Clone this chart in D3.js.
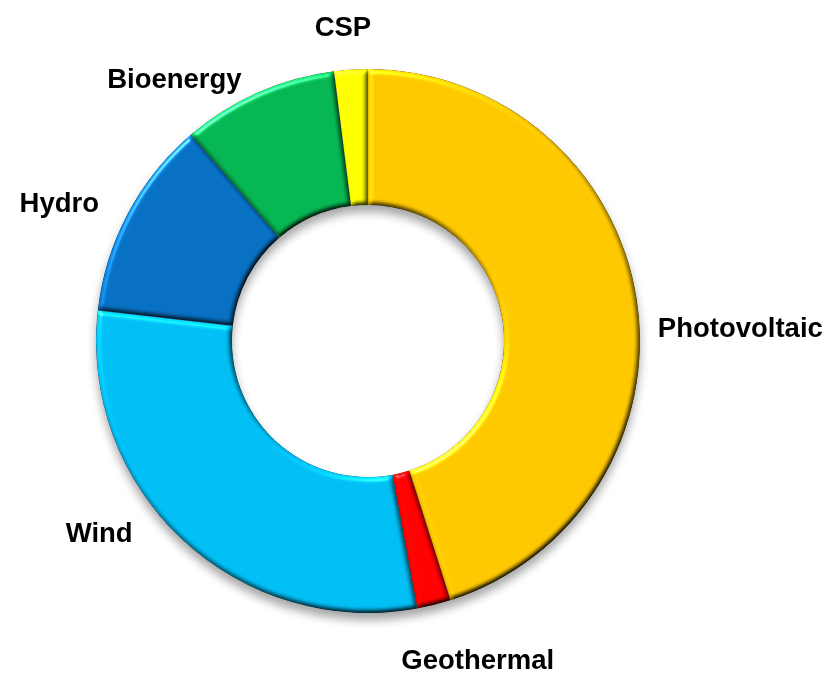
<!DOCTYPE html>
<html>
<head>
<meta charset="utf-8">
<script src="https://cdnjs.cloudflare.com/ajax/libs/d3/7.8.5/d3.min.js"></script>
<style>
  body { margin: 0; background: #fff; }
  .label { font-family: "Liberation Sans", Arial, sans-serif; font-weight: bold; font-size: 27.5px; fill: #000; }
</style>
</head>
<body>
<div id="chart"></div>
<script>
// donut chart - renewable energy shares

var sources = ["Photovoltaic", "Geothermal", "Wind", "Hydro", "Bioenergy", "CSP"];
var shares = [45.1, 2.0, 29.7, 11.9, 9.3, 2.0];
var colors = ["#FFC800", "#FF0000", "#00BEF4", "#0670C2", "#05B652", "#FFFF00"];

// label nudges from default outside position (px)
var labelNudge = [[64, 34], [34, 16], [-56, -37], [-33, 7], [-67, 23], [-5.5, -3.6]];

var svgWidth = 829;
var svgHeight = 675;
var cx = 368, cy = 341;
var outerR = 272, innerR = 136;

var svg = d3.select("#chart").append("svg")
  .attr("width", svgWidth)
  .attr("height", svgHeight);

var defs = svg.append("defs");

// soft bevel on each slice
var bevel = defs.append("filter").attr("id", "bevel")
  .attr("color-interpolation-filters", "sRGB")
  .attr("x", "-10%").attr("y", "-10%").attr("width", "120%").attr("height", "120%");
bevel.append("feGaussianBlur").attr("in", "SourceAlpha").attr("stdDeviation", 2.6).attr("result", "blur");
bevel.append("feDiffuseLighting").attr("in", "blur").attr("surfaceScale", 3)
  .attr("diffuseConstant", 1).attr("lighting-color", "#fff").attr("result", "diff")
  .append("feDistantLight").attr("azimuth", 235).attr("elevation", 50);
bevel.append("feComposite").attr("in", "SourceGraphic").attr("in2", "diff")
  .attr("operator", "arithmetic").attr("k1", 1.3).attr("k2", 0).attr("k3", 0).attr("k4", 0)
  .attr("result", "shaded");
bevel.append("feSpecularLighting").attr("in", "blur").attr("surfaceScale", 3)
  .attr("specularConstant", 0.5).attr("specularExponent", 40).attr("lighting-color", "#fff")
  .attr("result", "spec")
  .append("feDistantLight").attr("azimuth", 235).attr("elevation", 40);
bevel.append("feComposite").attr("in", "spec").attr("in2", "SourceAlpha").attr("operator", "in").attr("result", "specIn");
bevel.append("feComposite").attr("in", "shaded").attr("in2", "specIn")
  .attr("operator", "arithmetic").attr("k1", 0).attr("k2", 1).attr("k3", 1).attr("k4", 0)
  .attr("result", "lit");
bevel.append("feComposite").attr("in", "lit").attr("in2", "SourceAlpha").attr("operator", "in");

// drop shadow under the ring
var shadow = defs.append("filter").attr("id", "shadow")
  .attr("color-interpolation-filters", "sRGB")
  .attr("x", "-10%").attr("y", "-10%").attr("width", "120%").attr("height", "125%");
shadow.append("feGaussianBlur").attr("in", "SourceAlpha").attr("stdDeviation", 5).attr("result", "sb");
shadow.append("feOffset").attr("in", "sb").attr("dx", 0).attr("dy", 7).attr("result", "so");
shadow.append("feComponentTransfer").attr("in", "so").attr("result", "sf")
  .append("feFuncA").attr("type", "linear").attr("slope", 0.35);
var merge = shadow.append("feMerge");
merge.append("feMergeNode").attr("in", "sf");
merge.append("feMergeNode").attr("in", "SourceGraphic");

var data = sources.map(function(s, i) { return { name: s, value: shares[i], color: colors[i] }; });

var pie = d3.pie()
  .sort(null)
  .value(d => d.value);

var arc = d3.arc()
  .innerRadius(innerR)
  .outerRadius(outerR);

var chartGroup = svg.append("g")
  .attr("transform", `translate(${cx}, ${cy})`)
  .attr("filter", "url(#shadow)");

chartGroup.selectAll("path")
  .data(pie(data))
  .enter()
  .append("path")
  .attr("d", arc)
  .attr("fill", d => d.data.color)
  .attr("stroke", "rgba(0,0,0,0.35)")
  .attr("stroke-width", 0.6)
  .attr("filter", "url(#bevel)");

// labels outside the ring
var labelR = outerR + 40;
svg.append("g")
  .attr("transform", `translate(${cx}, ${cy})`)
  .selectAll("text")
  .data(pie(data))
  .enter()
  .append("text")
  .attr("class", "label")
  .attr("text-anchor", "middle")
  .attr("dy", "0.35em")
  .attr("x", (d, i) => Math.sin((d.startAngle + d.endAngle) / 2) * labelR + labelNudge[i][0])
  .attr("y", (d, i) => -Math.cos((d.startAngle + d.endAngle) / 2) * labelR + labelNudge[i][1])
  .text(d => d.data.name);
</script>
</body>
</html>
